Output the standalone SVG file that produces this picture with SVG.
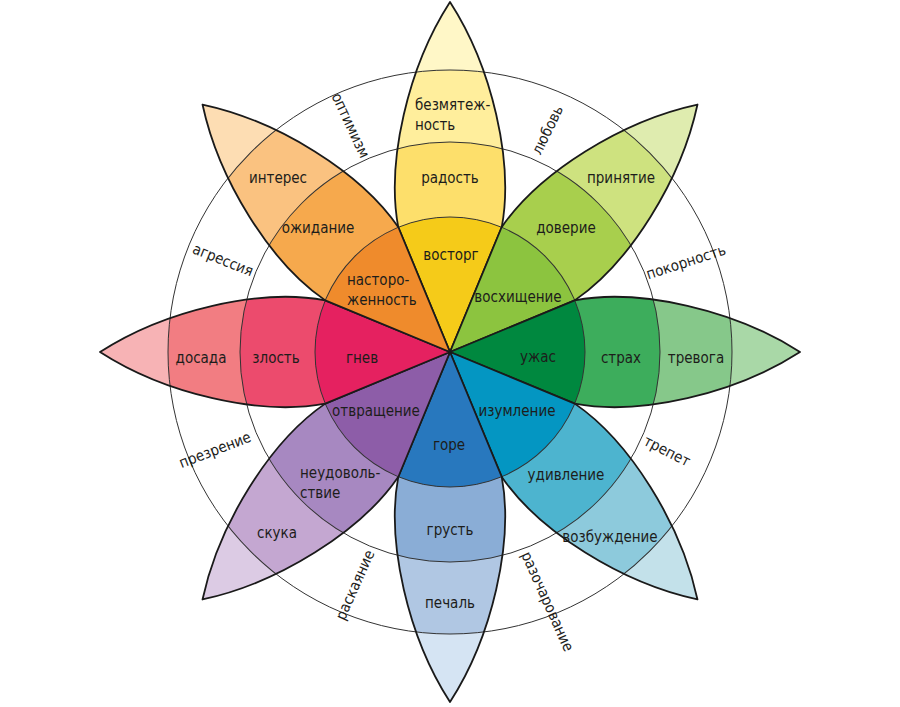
<svg xmlns="http://www.w3.org/2000/svg" xmlns:xlink="http://www.w3.org/1999/xlink" width="900" height="707" viewBox="0 0 900 707">
<style>
.t{font-family:"DejaVu Sans Condensed","DejaVu Sans",sans-serif;font-size:15px;fill:#1d1d1b}
.m{text-anchor:middle}
.r{dominant-baseline:central}
.ol{fill:none;stroke:#1a1a1a;stroke-width:1.8;stroke-linejoin:round}
.bd{stroke:#333;stroke-width:1}
.ring{fill:none;stroke:#333;stroke-width:1}
</style>
<defs>
<path id="pp" d="M0,0 L-51.7,-124.7 C-64,-190 -42,-285 0,-350 C42,-285 64,-190 51.7,-124.7 Z"/>
<clipPath id="pc"><use xlink:href="#pp"/></clipPath>
</defs>
<rect width="900" height="707" fill="#fff"/>
<g id="rings">
<circle class="ring" cx="450" cy="352" r="210"/>
<circle class="ring" cx="450" cy="352" r="282"/>
</g>
<g id="joy">
<g transform="translate(450,352) rotate(0)">
<g clip-path="url(#pc)">
<circle r="360" fill="#FFF7C7"/><circle class="bd" r="282" fill="#FFEE9C"/><circle class="bd" r="210" fill="#FDDF6B"/><circle class="bd" r="135" fill="#F5CB19"/>
</g>
<use xlink:href="#pp" class="ol"/>
</g>
<text class="t" x="415" y="110">безмятеж-</text>
<text class="t" x="415" y="130">ность</text>
<text class="t m" x="450" y="183">радость</text>
<text class="t m" x="451" y="260">восторг</text>
</g>
<g id="trust">
<g transform="translate(450,352) rotate(45)">
<g clip-path="url(#pc)">
<circle r="360" fill="#DFECAF"/><circle class="bd" r="282" fill="#CEE27F"/><circle class="bd" r="210" fill="#A8CF4D"/><circle class="bd" r="135" fill="#8CC43F"/>
</g>
<use xlink:href="#pp" class="ol"/>
</g>
<text class="t m" x="621" y="183">принятие</text>
<text class="t m" x="566" y="233">доверие</text>
<text class="t m" x="518" y="302">восхищение</text>
</g>
<g id="fear">
<g transform="translate(450,352) rotate(90)">
<g clip-path="url(#pc)">
<circle r="360" fill="#A9D8A7"/><circle class="bd" r="282" fill="#86C88A"/><circle class="bd" r="210" fill="#3DAD5C"/><circle class="bd" r="135" fill="#00883F"/>
</g>
<use xlink:href="#pp" class="ol"/>
</g>
<text class="t m" x="538" y="362">ужас</text>
<text class="t m" x="621" y="363">страх</text>
<text class="t m" x="696" y="363">тревога</text>
</g>
<g id="surprise">
<g transform="translate(450,352) rotate(135)">
<g clip-path="url(#pc)">
<circle r="360" fill="#C3E1EA"/><circle class="bd" r="282" fill="#8DCADC"/><circle class="bd" r="210" fill="#4DB4CF"/><circle class="bd" r="135" fill="#0496C2"/>
</g>
<use xlink:href="#pp" class="ol"/>
</g>
<text class="t m" x="517" y="416">изумление</text>
<text class="t m" x="566" y="480">удивление</text>
<text class="t m" x="610" y="542">возбуждение</text>
</g>
<g id="sadness">
<g transform="translate(450,352) rotate(180)">
<g clip-path="url(#pc)">
<circle r="360" fill="#D5E4F3"/><circle class="bd" r="282" fill="#B0C7E3"/><circle class="bd" r="210" fill="#8AADD6"/><circle class="bd" r="135" fill="#2878BE"/>
</g>
<use xlink:href="#pp" class="ol"/>
</g>
<text class="t m" x="449" y="450">горе</text>
<text class="t m" x="450" y="535">грусть</text>
<text class="t m" x="450" y="608">печаль</text>
</g>
<g id="disgust">
<g transform="translate(450,352) rotate(225)">
<g clip-path="url(#pc)">
<circle r="360" fill="#DCCBE4"/><circle class="bd" r="282" fill="#C4A7D1"/><circle class="bd" r="210" fill="#A788C1"/><circle class="bd" r="135" fill="#8D5DA8"/>
</g>
<use xlink:href="#pp" class="ol"/>
</g>
<text class="t m" x="376" y="416">отвращение</text>
<text class="t" x="300" y="478">неудоволь-</text>
<text class="t" x="300" y="498">ствие</text>
<text class="t m" x="277" y="538">скука</text>
</g>
<g id="anger">
<g transform="translate(450,352) rotate(270)">
<g clip-path="url(#pc)">
<circle r="360" fill="#F7B3B5"/><circle class="bd" r="282" fill="#F27D82"/><circle class="bd" r="210" fill="#EC4B6D"/><circle class="bd" r="135" fill="#E52160"/>
</g>
<use xlink:href="#pp" class="ol"/>
</g>
<text class="t m" x="362" y="363">гнев</text>
<text class="t m" x="276" y="363">злость</text>
<text class="t m" x="201" y="363">досада</text>
</g>
<g id="anticipation">
<g transform="translate(450,352) rotate(315)">
<g clip-path="url(#pc)">
<circle r="360" fill="#FDDDB3"/><circle class="bd" r="282" fill="#FAC280"/><circle class="bd" r="210" fill="#F6A94D"/><circle class="bd" r="135" fill="#EF8B2C"/>
</g>
<use xlink:href="#pp" class="ol"/>
</g>
<text class="t" x="347" y="285">насторо-</text>
<text class="t" x="347" y="305">женность</text>
<text class="t m" x="318" y="233">ожидание</text>
<text class="t m" x="278" y="183">интерес</text>
</g>
<g id="dyads">
<text class="t m r" transform="translate(350.5,125.5) rotate(65)">оптимизм</text>
<text class="t m r" transform="translate(547.5,130) rotate(-64)">любовь</text>
<text class="t m r" transform="translate(686,262) rotate(-18)">покорность</text>
<text class="t m r" transform="translate(667,451) rotate(27)">трепет</text>
<text class="t m r" transform="translate(547.5,601.5) rotate(66)">разочарование</text>
<text class="t m r" transform="translate(355,585) rotate(-66)">раскаяние</text>
<text class="t m r" transform="translate(215,450) rotate(-21)">презрение</text>
<text class="t m r" transform="translate(223,260) rotate(22)">агрессия</text>
</g>
</svg>
